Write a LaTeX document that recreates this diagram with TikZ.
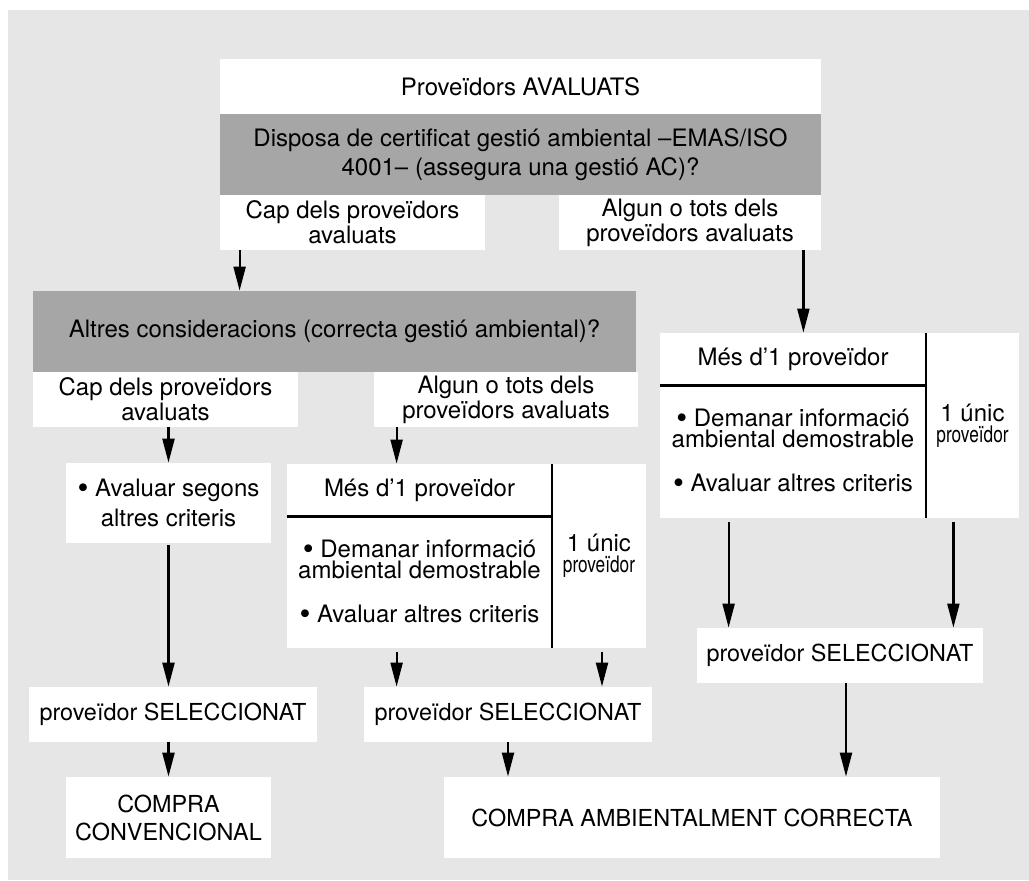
\documentclass[tikz,border=0pt]{standalone}
\usepackage{fontspec}
\setmainfont{TeX Gyre Heros}
\usepackage{graphicx}
\usepackage{tikz}
\usepackage{xcolor}
\usetikzlibrary{shapes, positioning, arrows.meta}

\definecolor{bggray}{RGB}{230,230,230}
\definecolor{boxgray}{RGB}{166,166,166}

\newcommand{\bul}{\raisebox{-0.8pt}{\scalebox{1.3}{\textbullet}}}
\newcommand{\narrowprov}{\scalebox{0.72}[0.95]{proveïdor}}

\tikzset{
    wbox/.style={fill=white, inner sep=0pt, align=center, font=\fontsize{12}{10.5}\selectfont},
    gbox/.style={wbox, fill=boxgray},
    selbox/.style={wbox, font=\fontsize{11.7}{10.5}\selectfont},
    arr/.style={-{Triangle[length=12pt, width=6pt]}, line width=1.1pt},
    divline/.style={line width=1.1pt},
}

\begin{document}
\begin{tikzpicture}[x=0.5pt, y=-0.5pt]
        \useasboundingbox (0, 0) rectangle (1029, 880);
        \fill[bggray] (8, 10) rectangle (1029, 880);

        \node[wbox, minimum width=300.5pt, minimum height=27.5pt] (top) at (520.5, 86.5) {Proveïdors AVALUATS};
        \node[gbox, minimum width=300.5pt, minimum height=40.5pt, font=\fontsize{12}{14.5}\selectfont] (disp) at (520.5, 154.5) {Disposa de certificat gestió ambiental –EMAS/ISO\\4001– (assegura una gestió AC)?};
        \node[wbox, minimum width=132.5pt, minimum height=27.5pt] (capA) at (352.5, 222.5) {Cap dels proveïdors\\avaluats};
        \node[wbox, minimum width=131pt, minimum height=27.5pt] (algA) at (690, 222.5) {Algun o tots dels\\proveïdors avaluats};

        \node[gbox, minimum width=301.5pt, minimum height=40.5pt] (altres) at (334.5, 331.5) {Altres consideracions (correcta gestió ambiental)?};
        \node[wbox, minimum width=132.5pt, minimum height=27.5pt] (capB) at (165.5, 399.5) {Cap dels proveïdors\\avaluats};
        \node[wbox, minimum width=132pt, minimum height=27.5pt] (algB) at (506, 399.5) {Algun o tots dels\\proveïdors avaluats};
        \node[wbox, minimum width=102.5pt, minimum height=40pt, font=\fontsize{12}{15}\selectfont] (aval) at (168.5, 503) {\bul\ Avaluar segons\\altres criteris};

        \node[wbox, minimum width=132.5pt, minimum height=26pt] (midMes) at (419.5, 490) {Més d’1 proveïdor};
        \node[wbox, minimum width=132.5pt, minimum height=66pt, font=\fontsize{12}{10.5}\selectfont] (midDem) at (419.5, 582) {\bul\ Demanar informació\\ambiental demostrable\\[11.5pt]\bul\ Avaluar altres criteris};
        \node[wbox, minimum width=47pt, minimum height=92pt] (midUnic) at (599, 556) {1 únic\\\narrowprov};

        \node[wbox, minimum width=133pt, minimum height=26pt] (rMes) at (793, 359) {Més d’1 proveïdor};
        \node[wbox, minimum width=133pt, minimum height=66.5pt, font=\fontsize{12}{10.5}\selectfont] (rDem) at (793, 451.5) {\bul\ Demanar informació\\ambiental demostrable\\[11.5pt]\bul\ Avaluar altres criteris};
        \node[wbox, minimum width=46.5pt, minimum height=92.5pt] (rUnic) at (972.5, 425.5) {1 únic\\\narrowprov};

        \node[selbox, minimum width=144pt, minimum height=27.5pt] (selL) at (173, 714.5) {proveïdor SELECCIONAT};
        \node[selbox, minimum width=144pt, minimum height=27.5pt] (selM) at (508, 714.5) {proveïdor SELECCIONAT};
        \node[selbox, minimum width=143pt, minimum height=27.5pt] (selR) at (840, 655.5) {proveïdor SELECCIONAT};

        \node[selbox, minimum width=102.5pt, minimum height=40.5pt, font=\fontsize{11.7}{14}\selectfont] (compC) at (168.5, 817.5) {COMPRA\\CONVENCIONAL};
        \node[selbox, minimum width=248pt, minimum height=40.5pt] (compA) at (692, 817.5) {COMPRA AMBIENTALMENT CORRECTA};

        \draw[divline] (midUnic.north west) to (midUnic.south west);
        \draw[divline] (midMes.south west) to (midMes.south east);
        \draw[divline] (rUnic.north west) to (rUnic.south west);
        \draw[divline] (rMes.south west) to (rMes.south east);

        \draw[arr] ([xshift=10pt]capA.south west) to ([xshift=10pt]capA.south west |- altres.north);
        \draw[arr] ([xshift=-9pt]algA.south east) to ([xshift=-9pt]algA.south east |- rMes.north);

        \draw[arr] (capB.south -| aval.north) to (aval.north);
        \draw[arr] ([xshift=11.5pt]algB.south west) to ([xshift=11.5pt]algB.south west |- midMes.north);
        \draw[arr] ([yshift=-1pt]aval.south) to (aval.south |- selL.north);

        \draw[arr] ([xshift=55pt, yshift=-2pt]midDem.south west) to ([xshift=55pt]midDem.south west |- selM.north);
        \draw[arr] ([xshift=1.5pt, yshift=-2pt]midUnic.south) to ([xshift=1.5pt]midUnic.south |- selM.north);
        \draw[arr] ([xshift=34.5pt, yshift=-2pt]rDem.south west) to ([xshift=34.5pt]rDem.south west |- selR.north);
        \draw[arr] ([xshift=-33pt, yshift=-2pt]rUnic.south east) to ([xshift=-33pt]rUnic.south east |- selR.north);

        \draw[arr] (selL.south -| compC.north) to (compC.north);
        \draw[arr] (selM.south) to (selM.south |- compA.north);
        \draw[arr] ([xshift=3pt]selR.south) to ([xshift=3pt]selR.south |- compA.north);
\end{tikzpicture}
\end{document}
